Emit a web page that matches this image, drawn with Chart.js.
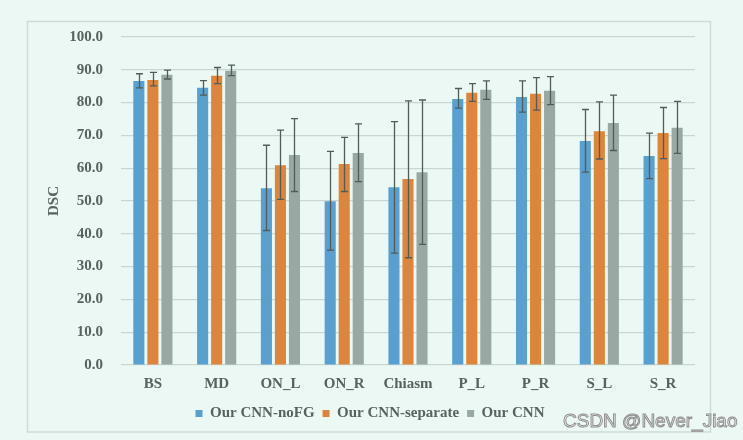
<!DOCTYPE html>
<html>
<head>
<meta charset="utf-8">
<script src="https://cdn.jsdelivr.net/npm/chart.js@4/dist/chart.umd.min.js"></script>
<style>
html,body{margin:0;padding:0;background:#ecf8f3;}
#wrap{width:743px;height:440px;position:relative;}
</style>
</head>
<body>
<div id="wrap"><canvas id="c" width="743" height="440"></canvas></div>
<script>
const categories = ["BS","MD","ON_L","ON_R","Chiasm","P_L","P_R","S_L","S_R"];
const seriesNames = ["Our CNN-noFG","Our CNN-separate","Our CNN"];
const noFG      = [86.6, 84.5, 53.9, 49.9, 54.2, 81.1, 81.7, 68.3, 63.7];
const noFGLow   = [84.5, 82.3, 41.0, 35.0, 34.1, 78.3, 77.1, 58.8, 56.8];
const noFGHigh  = [88.8, 86.7, 67.0, 65.1, 74.2, 84.3, 86.6, 77.9, 70.7];
const separate     = [86.9, 88.2, 60.9, 61.3, 56.7, 83.0, 82.7, 71.3, 70.7];
const separateLow  = [85.1, 85.8, 50.5, 52.9, 32.7, 80.4, 77.7, 62.8, 62.9];
const separateHigh = [89.2, 90.7, 71.6, 69.4, 80.5, 85.8, 87.6, 80.2, 78.5];
const full     = [88.5, 89.7, 64.0, 64.6, 58.8, 83.9, 83.6, 73.8, 72.3];
const fullLow  = [87.2, 88.2, 52.9, 55.9, 36.8, 81.0, 79.4, 65.4, 64.5];
const fullHigh = [89.9, 91.4, 75.1, 73.5, 80.8, 86.6, 87.9, 82.3, 80.4];
const yTicks = [0,10,20,30,40,50,60,70,80,90,100];

const textColor = '#58635f';
const serif = '"Liberation Serif","Times New Roman",serif';

const bgPlugin = {
  id:'bg',
  beforeDraw(chart){
    const ctx = chart.ctx;
    ctx.save();
    ctx.fillStyle = '#ecf8f3';
    ctx.fillRect(0,0,chart.width,chart.height);
    ctx.strokeStyle = '#cfdbd5';
    ctx.lineWidth = 1.5;
    ctx.strokeRect(27.5,21.5,683,410.5);
    ctx.restore();
  }
};

const errPlugin = {
  id:'errbars',
  afterDatasetsDraw(chart){
    const ctx = chart.ctx;
    const y = chart.scales.y;
    ctx.save();
    ctx.strokeStyle = '#4f5c57';
    ctx.lineWidth = 1.3;
    chart.data.datasets.forEach((ds,i)=>{
      const meta = chart.getDatasetMeta(i);
      meta.data.forEach((bar,j)=>{
        const x = Math.round(bar.x)+0.5;
        const yl = y.getPixelForValue(ds.errLow[j]);
        const yh = y.getPixelForValue(ds.errHigh[j]);
        ctx.beginPath();
        ctx.moveTo(x,yl); ctx.lineTo(x,yh);
        ctx.moveTo(x-3.5,yl); ctx.lineTo(x+3.5,yl);
        ctx.moveTo(x-3.5,yh); ctx.lineTo(x+3.5,yh);
        ctx.stroke();
      });
    });
    ctx.restore();
  }
};

const wmPlugin = {
  id:'wm',
  afterDraw(chart){
    const ctx = chart.ctx;
    ctx.save();
    ctx.font = '19px "Liberation Sans", Arial, sans-serif';
    ctx.textBaseline = 'middle';
    ctx.textAlign = 'left';
    ctx.lineWidth = 1;
    ctx.strokeStyle = '#8e8e8e';
    ctx.fillStyle = '#f6f6f6';
    ctx.fillText('CSDN @Never_Jiao', 563, 422);
    ctx.strokeText('CSDN @Never_Jiao', 563, 422);
    ctx.restore();
  }
};

new Chart(document.getElementById('c'), {
  type:'bar',
  data:{
    labels:categories,
    datasets:[
      {label:seriesNames[0], data:noFG, errLow:noFGLow, errHigh:noFGHigh, backgroundColor:'#57a0d0'},
      {label:seriesNames[1], data:separate, errLow:separateLow, errHigh:separateHigh, backgroundColor:'#dd853a'},
      {label:seriesNames[2], data:full, errLow:fullLow, errHigh:fullHigh, backgroundColor:'#9aa8a3'}
    ]
  },
  options:{
    responsive:false,
    animation:false,
    devicePixelRatio:1,
    categoryPercentage:0.66,
    barPercentage:0.79,
    layout:{padding:{left:45,right:48,top:37,bottom:9}},
    plugins:{
      legend:{
        position:'bottom',
        labels:{
          boxWidth:7, boxHeight:7, padding:8,
          color:textColor,
          font:{family:serif, size:15, weight:'bold'}
        }
      },
      tooltip:{enabled:false}
    },
    scales:{
      x:{
        afterFit(s){ s.height = 33; },
        grid:{display:false, drawTicks:false},
        border:{display:false},
        ticks:{color:textColor, padding:10, font:{family:serif, size:15, weight:'bold'}}
      },
      y:{
        min:0, max:100,
        afterFit(s){ s.width = 76; },
        afterBuildTicks(s){ s.ticks = yTicks.map(v=>({value:v})); },
        grid:{color:'#c9d7d1', lineWidth:1.2, drawTicks:false},
        border:{display:false},
        title:{display:true, text:'DSC', color:textColor, padding:{top:0,bottom:0}, font:{family:serif, size:15, weight:'bold'}},
        ticks:{color:textColor, padding:18, font:{family:serif, size:15, weight:'bold'},
          callback:(v)=>Number(v).toFixed(1)}
      }
    }
  },
  plugins:[bgPlugin, errPlugin, wmPlugin]
});
</script>
</body>
</html>
